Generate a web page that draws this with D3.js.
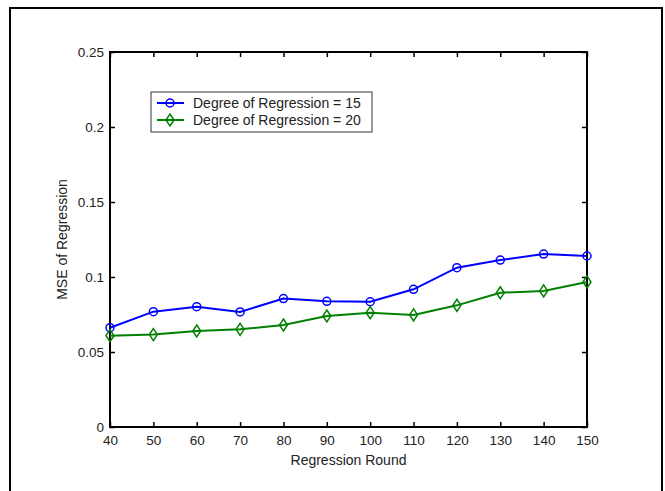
<!DOCTYPE html>
<html>
<head>
<meta charset="utf-8">
<script src="https://cdn.jsdelivr.net/npm/d3@7"></script>
<style>
  body { margin: 0; background: #fff; }
  text { font-family: "Liberation Sans", Arial, sans-serif; fill: #222; }
</style>
</head>
<body>
<svg id="chart" width="665" height="491"></svg>
<script>
const rounds = [40, 50, 60, 70, 80, 90, 100, 110, 120, 130, 140, 150];
const mseDeg15 = [0.0662, 0.0769, 0.0802, 0.0767, 0.0856, 0.0838, 0.0835, 0.0918, 0.1062, 0.1113, 0.1153, 0.1140];
const mseDeg20 = [0.0609, 0.0616, 0.0640, 0.0651, 0.0680, 0.0740, 0.0762, 0.0747, 0.0811, 0.0895, 0.0907, 0.0967];
const yTicks = [0, 0.05, 0.1, 0.15, 0.2, 0.25];
const legendLabels = ["Degree of Regression = 15", "Degree of Regression = 20"];

const svg = d3.select("#chart");
const pLeft = 110, pRight = 587, pTop = 52, pBottom = 427;

// outer figure frame
svg.append("path")
  .attr("d", "M10,492 V8 H662 V492")
  .attr("fill", "none")
  .attr("stroke", "#000")
  .attr("stroke-width", 2);

const x = d3.scaleLinear().domain([40, 150]).range([pLeft, pRight]);
const y = d3.scaleLinear().domain([0, 0.25]).range([pBottom, pTop]);

const fmt = (d) => (d === 0 ? "0" : String(d));

// bottom axis
svg.append("g")
  .attr("transform", "translate(0," + pBottom + ")")
  .call(d3.axisBottom(x).tickValues(rounds).tickSize(-5).tickPadding(8).tickFormat(d3.format("d")))
  .call((g) => g.select(".domain").remove())
  .selectAll("text").attr("font-size", "13.5px");

// left axis
svg.append("g")
  .attr("transform", "translate(" + pLeft + ",0)")
  .call(d3.axisLeft(y).tickValues(yTicks).tickSize(-5).tickPadding(6).tickFormat(fmt))
  .call((g) => g.select(".domain").remove())
  .selectAll("text").attr("font-size", "13.5px");

// top and right ticks (box on)
svg.append("g")
  .attr("transform", "translate(0," + pTop + ")")
  .call(d3.axisTop(x).tickValues(rounds).tickSize(-5).tickFormat(""))
  .call((g) => g.select(".domain").remove());
svg.append("g")
  .attr("transform", "translate(" + pRight + ",0)")
  .call(d3.axisRight(y).tickValues(yTicks).tickSize(-5).tickFormat(""))
  .call((g) => g.select(".domain").remove());

svg.selectAll(".tick line").attr("stroke", "#000").attr("stroke-width", 1.5);

// plot box
svg.append("rect")
  .attr("x", pLeft).attr("y", pTop)
  .attr("width", pRight - pLeft).attr("height", pBottom - pTop)
  .attr("fill", "none").attr("stroke", "#000").attr("stroke-width", 2);

// axis labels
svg.append("text")
  .attr("x", (pLeft + pRight) / 2).attr("y", 465)
  .attr("text-anchor", "middle").attr("font-size", "14px")
  .text("Regression Round");
svg.append("text")
  .attr("transform", "translate(67," + (pTop + pBottom) / 2 + ") rotate(-90)")
  .attr("text-anchor", "middle").attr("font-size", "14px")
  .text("MSE of Regression");

const line = d3.line().x((d, i) => x(rounds[i])).y((d) => y(d));

// series 15 (blue circles)
svg.append("path").datum(mseDeg15)
  .attr("d", line).attr("fill", "none")
  .attr("stroke", "#0000ff").attr("stroke-width", 2);
svg.selectAll(".c15").data(mseDeg15).enter().append("circle")
  .attr("cx", (d, i) => x(rounds[i])).attr("cy", (d) => y(d))
  .attr("r", 4).attr("fill", "none")
  .attr("stroke", "#0000ff").attr("stroke-width", 1.5);

// series 20 (green diamonds)
const diamond = (cx, cy) =>
  "M" + cx + "," + (cy - 6) + " L" + (cx + 4) + "," + cy + " L" + cx + "," + (cy + 6) + " L" + (cx - 4) + "," + cy + "Z";
svg.append("path").datum(mseDeg20)
  .attr("d", line).attr("fill", "none")
  .attr("stroke", "#008000").attr("stroke-width", 2);
svg.selectAll(".d20").data(mseDeg20).enter().append("path")
  .attr("d", (d, i) => diamond(x(rounds[i]), y(d)))
  .attr("fill", "none").attr("stroke", "#008000").attr("stroke-width", 1.5);

// legend
const lg = svg.append("g");
lg.append("rect")
  .attr("x", 151).attr("y", 92).attr("width", 221).attr("height", 40)
  .attr("fill", "#fff").attr("stroke", "#333").attr("stroke-width", 1);
const colors = ["#0000ff", "#008000"];
legendLabels.forEach((lab, i) => {
  const cy = 103 + i * 17;
  lg.append("line")
    .attr("x1", 157).attr("x2", 184).attr("y1", cy).attr("y2", cy)
    .attr("stroke", colors[i]).attr("stroke-width", 2);
  if (i === 0) {
    lg.append("circle").attr("cx", 170).attr("cy", cy).attr("r", 4)
      .attr("fill", "none").attr("stroke", colors[i]).attr("stroke-width", 1.5);
  } else {
    lg.append("path").attr("d", diamond(170, cy))
      .attr("fill", "none").attr("stroke", colors[i]).attr("stroke-width", 1.5);
  }
  lg.append("text")
    .attr("x", 193).attr("y", cy + 5)
    .attr("font-size", "14px")
    .text(lab);
});
</script>
</body>
</html>
